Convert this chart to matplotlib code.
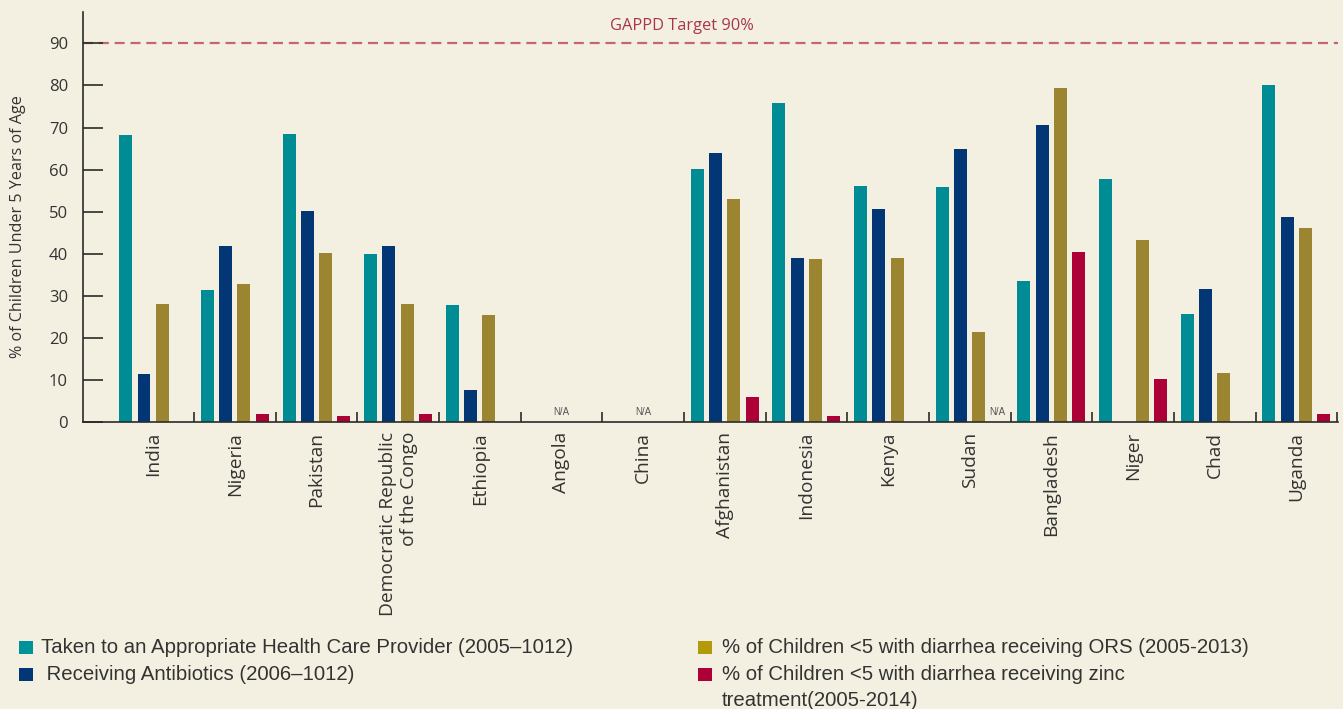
import matplotlib
matplotlib.use("Agg")
import matplotlib.pyplot as plt
from matplotlib.patches import Rectangle
import numpy as np

plt.rcParams['lines.scale_dashes'] = False

# ---------------- data ----------------
countries = ["India", "Nigeria", "Pakistan", "Democratic Republic\nof the Congo", "Ethiopia",
             "Angola", "China", "Afghanistan", "Indonesia", "Kenya", "Sudan", "Bangladesh",
             "Niger", "Chad", "Uganda"]
care_provider = [68.2, 31.4, 68.5, 40.0, 27.9, None, None, 60.2, 75.8, 56.1, 55.9, 33.6, 57.8, 25.7, 80.1]
antibiotics   = [11.5, 41.9, 50.2, 41.9, 7.7, None, None, 64.0, 39.0, 50.6, 64.9, 70.6, None, 31.7, 48.8]
ors           = [28.1, 32.8, 40.2, 28.1, 25.5, None, None, 53.0, 38.8, 39.0, 21.4, 79.4, 43.3, 11.7, 46.1]
zinc          = [None, 2.0, 1.5, 2.0, None, None, None, 6.0, 1.5, None, None, 40.4, 10.3, None, 2.0]
series_names = ["Taken to an Appropriate Health Care Provider (2005\u20131012)",
                " Receiving Antibiotics (2006\u20131012)",
                "% of Children <5 with diarrhea receiving ORS (2005-2013)",
                "% of Children <5 with diarrhea receiving zinc\ntreatment(2005-2014)"]
# N/A annotations: (country index, series index or None for whole group)
na_marks = [(5, None), (6, None), (10, 3)]
target = 90
target_label = "GAPPD Target 90%"
yticks = [0, 10, 20, 30, 40, 50, 60, 70, 80, 90]
ylabel = "% of Children Under 5 Years of Age"

# ---------------- style ----------------
bg = "#F4F0E1"
colors = ["#008C95", "#023675", "#9C8531", "#AD0037"]
legend_colors = ["#00929B", "#023675", "#B39A08", "#AD0037"]
axis_col = "#2a2a2a"
text_col = "#333333"

W, H = 1343, 709
fig = plt.figure(figsize=(W / 100, H / 100), dpi=100, facecolor=bg)
ax = fig.add_axes([83 / W, (H - 422.3) / H, (1338 - 83) / W, (422.3 - 12) / H])
ax.set_facecolor(bg)

x = np.arange(len(countries))
bw = 0.159
step = 0.224
all_series = [care_provider, antibiotics, ors, zinc]
for k, (vals, c) in enumerate(zip(all_series, colors)):
    xs = [xi + (k - 1.5) * step for xi, v in zip(x, vals) if v is not None]
    hs = [v for v in vals if v is not None]
    ax.bar(xs, hs, width=bw, color=c, linewidth=0, zorder=2)

for ci, si in na_marks:
    xp = ci if si is None else ci + (si - 1.5) * step
    ax.text(xp, 1.7, "N/A", ha="center", va="baseline", fontsize=7,
            color="#555555", family=["Liberation Sans Narrow", "Liberation Sans"], zorder=3)

# target line
ax.axhline(target, color="#C46478", lw=1.6, dashes=(7.2, 4.2), zorder=1)
ax.text(6.47, 92.2, target_label, ha="center", va="bottom", fontsize=11.8,
        color="#A8354F", family="Open Sans")

ax.set_xlim(-0.859, 14.51)
ax.set_ylim(0, 97.44)
for s in ["top", "right"]:
    ax.spines[s].set_visible(False)
for s in ["left", "bottom"]:
    ax.spines[s].set_color(axis_col)
    ax.spines[s].set_linewidth(1.2)

ax.set_yticks(yticks)
ax.set_yticklabels([str(t) for t in yticks], fontsize=12, color=text_col, family="Open Sans")
ax.tick_params(axis="y", direction="in", length=14.4, width=1.2, color=axis_col, pad=10.8)

ax.set_xticks(x)
ax.set_xticklabels(countries, rotation=90, ha="center", va="top", multialignment="right",
                   fontsize=13.8, color=text_col, family="Open Sans", linespacing=1.2)
ax.tick_params(axis="x", which="major", length=0, pad=7)
ax.set_xticks(np.arange(0.5, len(countries), 1), minor=True)
ax.tick_params(axis="x", which="minor", direction="in", length=7.2, width=1.2, color=axis_col)

fig.text(18 / W, (H - 227) / H, ylabel, rotation=90, ha="center", va="center",
         fontsize=11.6, color=text_col, family="Open Sans")

# ---------------- legend ----------------
entries = [
    (0, 19, 41, 653),
    (1, 19, 41, 680),
    (2, 698, 722, 653),
    (3, 698, 722, 680),
]
for si, mx, tx, base in entries:
    fig.patches.append(Rectangle((mx / W, (H - base - 1) / H), 13.5 / W, 13 / H,
                                 transform=fig.transFigure, facecolor=legend_colors[si],
                                 edgecolor="none"))
    for li, line in enumerate(series_names[si].split("\n")):
        fig.text(tx / W, (H - base - 26 * li) / H, line, ha="left", va="baseline",
                 fontsize=14.7, color=text_col, family="Liberation Sans")

fig.savefig("out.png", dpi=100, facecolor=bg)
